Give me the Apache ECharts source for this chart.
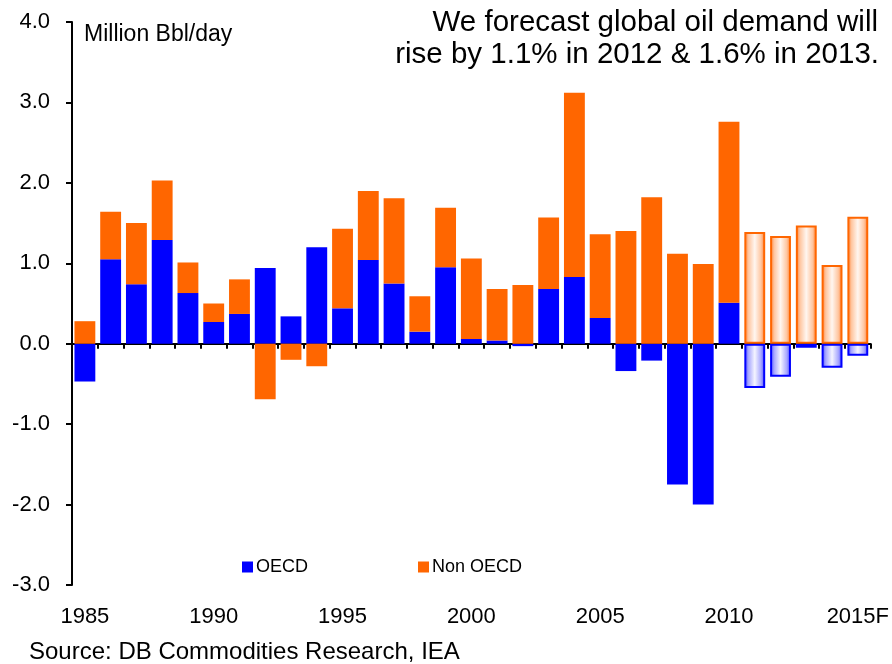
<!DOCTYPE html>
<html>
<head>
<meta charset="utf-8">
<script src="https://cdn.jsdelivr.net/npm/echarts@6/dist/echarts.min.js"></script>
<style>html,body{margin:0;padding:0;background:#fff;}#c{width:892px;height:664px;}</style>
</head>
<body>
<div id="c"></div>
<script>
const categories = ['1985','1986','1987','1988','1989','1990','1991','1992','1993','1994','1995','1996','1997','1998','1999','2000','2001','2002','2003','2004','2005','2006','2007','2008','2009','2010','2011','2012','2013','2014','2015F'];
const oecd = [-0.47,1.05,0.74,1.29,0.63,0.27,0.37,0.94,0.34,1.20,0.44,1.04,0.75,0.15,0.95,0.06,0.04,-0.03,0.68,0.83,0.32,-0.34,-0.21,-1.75,-2.00,0.51,-0.55,-0.41,-0.05,-0.30,-0.15];
const nonOecd = [0.28,0.59,0.76,0.74,0.38,0.23,0.43,-0.69,-0.20,-0.28,0.99,0.86,1.06,0.44,0.74,1.00,0.64,0.73,0.89,2.29,1.04,1.40,1.82,1.12,0.99,2.25,1.39,1.34,1.47,0.98,1.58];
const forecastFrom = 26; // index of first forecast year (2011)
const yTicks = [-3, -2, -1, 0, 1, 2, 3, 4];
const titleLines = ['We forecast global oil demand will', 'rise by 1.1% in 2012 & 1.6% in 2013.'];

const FONT = 'Liberation Sans, Arial, sans-serif';
const BLUE = '#0000FF', ORANGE = '#FF6600';

function grad(edge, mid, center) {
  return new echarts.graphic.LinearGradient(0, 0, 1, 0, [
    {offset: 0, color: edge}, {offset: 0.2, color: mid},
    {offset: 0.5, color: center}, {offset: 0.8, color: mid}, {offset: 1, color: edge}
  ]);
}
function build(vals, base, fEdge, fMid, fCenter) {
  return vals.map((v, i) => i >= forecastFrom ? {
    value: v,
    itemStyle: {color: grad(fEdge, fMid, fCenter), borderColor: base, borderWidth: 2}
  } : {value: v});
}

const chart = echarts.init(document.getElementById('c'), null, {renderer: 'canvas'});
chart.setOption({
  animation: false,
  textStyle: {fontFamily: FONT},
  grid: {left: 72, right: 21, top: 22, bottom: 79},
  xAxis: [{
    type: 'category', data: categories,
    axisLine: {onZero: true, lineStyle: {color: '#000', width: 2}},
    axisTick: {show: true, interval: 0, length: 5, lineStyle: {color: '#000', width: 2}},
    axisLabel: {show: false}, splitLine: {show: false}
  }, {
    type: 'category', data: categories, position: 'bottom',
    axisLine: {show: false, onZero: false}, axisTick: {show: false},
    axisLabel: {interval: 4, color: '#000', fontSize: 22, margin: 21, fontFamily: FONT},
    splitLine: {show: false}
  }],
  yAxis: {
    type: 'value', min: -3, max: 4, interval: 1,
    axisLine: {show: true, lineStyle: {color: '#000', width: 2}},
    axisTick: {show: true, length: 6, lineStyle: {color: '#000', width: 2}},
    axisLabel: {color: '#000', fontSize: 22, margin: 22, fontFamily: FONT,
      formatter: v => yTicks.includes(v) ? v.toFixed(1) : ''},
    splitLine: {show: false}
  },
  legend: [{
    data: ['OECD'], left: 237, top: 553, icon: 'rect', itemWidth: 11, itemHeight: 11,
    textStyle: {fontSize: 18, color: '#000', fontFamily: FONT, padding: [0, 0, 0, -2]}
  }, {
    data: ['Non OECD'], left: 413, top: 553, icon: 'rect', itemWidth: 11, itemHeight: 11,
    textStyle: {fontSize: 18, color: '#000', fontFamily: FONT, padding: [0, 0, 0, -2]}
  }],
  series: [{
    name: 'OECD', type: 'bar', stack: 'total', xAxisIndex: 0, barCategoryGap: '19%',
    itemStyle: {color: BLUE},
    data: build(oecd, BLUE, '#4444FF', '#A8A8FF', '#F4F4FF')
  }, {
    name: 'Non OECD', type: 'bar', stack: 'total', xAxisIndex: 0, barCategoryGap: '19%',
    itemStyle: {color: ORANGE},
    data: build(nonOecd, ORANGE, '#FF7A2A', '#FFC6A0', '#FFF6F0')
  }],
  graphic: [{
    type: 'text', left: 84, top: 23,
    style: {text: 'Million Bbl/day', fontSize: 23, fill: '#000', fontFamily: FONT}
  }, {
    type: 'text', right: 14, top: 8,
    style: {text: titleLines[0], fontSize: 29.5, fill: '#000', fontFamily: FONT}
  }, {
    type: 'text', right: 13, top: 40,
    style: {text: titleLines[1], fontSize: 29.5, fill: '#000', fontFamily: FONT}
  }, {
    type: 'text', left: 29, top: 640,
    style: {text: 'Source: DB Commodities Research, IEA', fontSize: 24, fill: '#000', fontFamily: FONT}
  }]
});
</script>
</body>
</html>
